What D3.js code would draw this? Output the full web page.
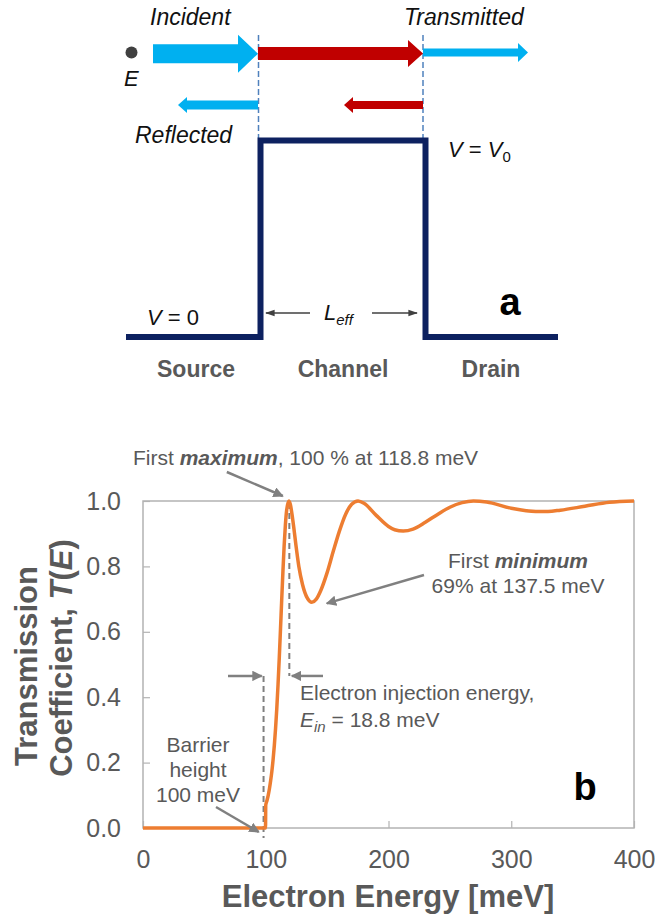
<!DOCTYPE html>
<html>
<head>
<meta charset="utf-8">
<script src="https://cdn.jsdelivr.net/npm/d3@7"></script>
<style>
  body { margin: 0; background: #fff; }
  svg { display: block; font-family: "Liberation Sans", Arial, Helvetica, sans-serif; }
</style>
</head>
<body>
<svg id="fig" width="655" height="917"></svg>
<script>
// transmission curve (b)
var energy = [0, 99.8, 100, 101, 102, 103, 104, 105, 106, 107, 108, 109, 110, 111, 112, 113, 114, 115, 116, 117,
  118.8, 120, 122, 125, 127, 130, 134, 137.5, 141, 145, 150, 155, 160, 165, 170, 175.2, 180, 190, 200, 205,
  212, 220, 230, 240, 250, 260, 269.2, 280, 300, 320, 330, 340, 360, 380, 400];
var transmission = [0, 0, 0.07, 0.084, 0.100, 0.120, 0.145, 0.174, 0.210, 0.253, 0.305, 0.366, 0.438, 0.519, 0.607, 0.698, 0.785, 0.864, 0.927, 0.971,
  1.0, 0.990, 0.943, 0.853, 0.799, 0.744, 0.702, 0.690, 0.699, 0.728, 0.781, 0.846, 0.908, 0.959, 0.990, 1.0, 0.993, 0.956, 0.922, 0.912,
  0.908, 0.914, 0.935, 0.959, 0.981, 0.995, 1.0, 0.997, 0.978, 0.968, 0.968, 0.972, 0.984, 0.996, 1.0];
var xTicks = [0, 100, 200, 300, 400];
var yTicks = [0, 0.2, 0.4, 0.6, 0.8, 1.0];
var regionLabels = ["Source", "Channel", "Drain"];

var barrierE = 100, peakE = 118.8, minE = 137.5, minT = 0.69;

var svg = d3.select("#fig");
var grey = "#595959";

// ---------- panel a : schematic ----------
var a = svg.append("g");
var xL = 260.5, xR = 425.5, yTop = 140.5, yBot = 337;

function arrow(x0, tip, yc, shaft, headLen, headH, col) {
  var s = tip > x0 ? 1 : -1;
  var hb = tip - s * headLen;
  var pts = [[x0, yc - shaft / 2], [hb, yc - shaft / 2], [hb, yc - headH / 2], [tip, yc],
    [hb, yc + headH / 2], [hb, yc + shaft / 2], [x0, yc + shaft / 2]];
  a.append("polygon").attr("points", pts.map(function (p) { return p.join(","); }).join(" ")).attr("fill", col);
}

// dashed interface lines
[xL - 2, xR - 2.5].forEach(function (xx) {
  a.append("line").attr("x1", xx).attr("x2", xx).attr("y1", 35).attr("y2", 138)
    .attr("stroke", "#4f81bd").attr("stroke-width", 1.5).attr("stroke-dasharray", "6,3");
});

arrow(153, 258, 53.7, 19, 20, 38, "#00b0f0");
arrow(258, 423, 53.5, 13, 15, 27, "#c00000");
arrow(423, 528, 52.5, 8, 10, 19, "#00b0f0");
arrow(258, 178, 105, 9, 9, 16, "#00b0f0");
arrow(423, 344, 105, 8, 9, 16, "#c00000");

a.append("circle").attr("cx", 131.5).attr("cy", 52.5).attr("r", 6).attr("fill", "#404040");

// barrier profile
a.append("path")
  .attr("d", "M126," + yBot + "H" + xL + "V" + yTop + "H" + xR + "V" + yBot + "H558")
  .attr("fill", "none").attr("stroke", "#0d2160").attr("stroke-width", 6).attr("stroke-linejoin", "miter");

function itext(x, y, str, size) {
  return a.append("text").attr("x", x).attr("y", y).attr("font-size", size || 22)
    .attr("font-style", "italic").attr("fill", "#111").text(str);
}
itext(150, 25, "Incident").attr("font-size", 23);
itext(404, 25, "Transmitted").attr("font-size", 23);
itext(124, 86, "E");
itext(135, 143, "Reflected").attr("font-size", 23);

var v0 = a.append("text").attr("x", 448).attr("y", 157).attr("font-size", 22).attr("fill", "#111");
v0.append("tspan").attr("font-style", "italic").text("V");
v0.append("tspan").text(" = ");
v0.append("tspan").attr("font-style", "italic").text("V");
v0.append("tspan").attr("font-size", 15).attr("dy", 5).text("0");

var vz = a.append("text").attr("x", 147).attr("y", 325).attr("font-size", 22).attr("fill", "#111");
vz.append("tspan").attr("font-style", "italic").text("V");
vz.append("tspan").text(" = 0");

// L_eff with arrows
var defs = svg.append("defs");
defs.append("marker").attr("id", "hd").attr("viewBox", "0 0 10 10").attr("refX", 9).attr("refY", 5)
  .attr("markerWidth", 6).attr("markerHeight", 6).attr("orient", "auto-start-reverse").attr("markerUnits", "strokeWidth")
  .append("path").attr("d", "M0,1.5L10,5L0,8.5z").attr("fill", "#404040");
defs.append("marker").attr("id", "ga").attr("viewBox", "0 0 10 10").attr("refX", 9).attr("refY", 5)
  .attr("markerWidth", 4.2).attr("markerHeight", 4.2).attr("orient", "auto").attr("markerUnits", "strokeWidth")
  .append("path").attr("d", "M0,0L10,5L0,10z").attr("fill", "#808080");

a.append("line").attr("x1", 310).attr("x2", 266).attr("y1", 313).attr("y2", 313)
  .attr("stroke", "#404040").attr("stroke-width", 1.6).attr("marker-end", "url(#hd)");
a.append("line").attr("x1", 372).attr("x2", 417).attr("y1", 313).attr("y2", 313)
  .attr("stroke", "#404040").attr("stroke-width", 1.6).attr("marker-end", "url(#hd)");
var le = a.append("text").attr("x", 324).attr("y", 320).attr("font-size", 22).attr("font-style", "italic").attr("fill", "#111");
le.append("tspan").text("L");
le.append("tspan").attr("font-size", 15).attr("dy", 5).text("eff");

a.append("text").attr("x", 510).attr("y", 315).attr("text-anchor", "middle").attr("font-size", 38)
  .attr("font-weight", "bold").attr("fill", "#000").text("a");

var regionX = [196, 343, 491];
a.selectAll(".reg").data(regionLabels).enter().append("text")
  .attr("x", function (d, i) { return regionX[i]; }).attr("y", 377)
  .attr("text-anchor", "middle").attr("font-size", 23).attr("font-weight", "bold").attr("fill", grey)
  .text(function (d) { return d; });

// ---------- panel b : T(E) ----------
var x = d3.scaleLinear().domain([0, 400]).range([143, 634]);
var y = d3.scaleLinear().domain([0, 1]).range([828, 501]);

var b = svg.append("g");

b.append("rect").attr("x", x(0)).attr("y", y(1)).attr("width", x(400) - x(0)).attr("height", y(0) - y(1))
  .attr("fill", "none").attr("stroke", "#b3b3b3").attr("stroke-width", 1.5);

var yAxis = b.append("g").attr("transform", "translate(" + x(0) + ",0)")
  .call(d3.axisLeft(y).tickValues(yTicks).tickFormat(d3.format(".1f")).tickSizeInner(-7).tickSizeOuter(0).tickPadding(22));
var xAxis = b.append("g").attr("transform", "translate(0," + y(0) + ")")
  .call(d3.axisBottom(x).tickValues(xTicks).tickFormat(d3.format("d")).tickSizeInner(-7).tickSizeOuter(0).tickPadding(22));
[yAxis, xAxis].forEach(function (g) {
  g.select(".domain").remove();
  g.selectAll(".tick line").attr("stroke", "#b3b3b3").attr("stroke-width", 1.2);
  g.selectAll(".tick text").attr("font-size", 25).attr("fill", grey)
    .attr("font-family", "\"Liberation Sans\", Arial, sans-serif");
});

// dashed guides + annotation arrows
var armT = 0.465;
function dashed(x1, y1, x2, y2) {
  b.append("line").attr("x1", x1).attr("y1", y1).attr("x2", x2).attr("y2", y2)
    .attr("stroke", "#7f7f7f").attr("stroke-width", 2).attr("stroke-dasharray", "6,4");
}
function garrow(x1, y1, x2, y2) {
  b.append("line").attr("x1", x1).attr("y1", y1).attr("x2", x2).attr("y2", y2)
    .attr("stroke", "#808080").attr("stroke-width", 2.5).attr("marker-end", "url(#ga)");
}
dashed(x(peakE) + 0.5, y(1) + 2, x(peakE) + 0.5, y(armT));
dashed(x(barrierE) - 2.2, y(armT), x(barrierE) - 2.2, y(0) + 10);

var line = d3.line().x(function (d) { return x(d[0]); }).y(function (d) { return y(d[1]); }).curve(d3.curveMonotoneX);
b.append("path").datum(energy.map(function (e, i) { return [e, transmission[i]]; }))
  .attr("d", line).attr("fill", "none").attr("stroke", "#ed7d31").attr("stroke-width", 3.5)
  .attr("stroke-linejoin", "round");

garrow(228, y(armT), x(barrierE) - 4, y(armT));
garrow(323, y(armT), x(peakE) + 3, y(armT));
garrow(x(peakE) - 62, y(1) - 29, x(peakE) - 6, y(1) - 5);
garrow(424, 575, x(minE) + 15, y(minT) + 1);
garrow(216, 807, x(barrierE) - 7, y(0) + 4);

function note(xx, yy, anchor) {
  return b.append("text").attr("x", xx).attr("y", yy).attr("text-anchor", anchor || "start")
    .attr("font-size", 21).attr("fill", grey);
}
var t1 = note(133, 465);
t1.append("tspan").text("First ");
t1.append("tspan").attr("font-weight", "bold").attr("font-style", "italic").text("maximum");
t1.append("tspan").text(", 100 % at 118.8 meV");

var t2 = note(518, 568, "middle");
t2.append("tspan").text("First ");
t2.append("tspan").attr("font-weight", "bold").attr("font-style", "italic").text("minimum");
note(518, 593, "middle").text("69% at 137.5 meV");

note(300, 700).text("Electron injection energy,");
var t3 = note(300, 727);
t3.append("tspan").attr("font-style", "italic").text("E");
t3.append("tspan").attr("font-style", "italic").attr("font-size", 15).attr("dy", 5).text("in");
t3.append("tspan").attr("dy", -5).text(" = 18.8 meV");

["Barrier", "height", "100 meV"].forEach(function (s, i) {
  note(198, 752 + i * 25, "middle").text(s);
});

b.append("text").attr("x", 585).attr("y", 800).attr("text-anchor", "middle").attr("font-size", 38)
  .attr("font-weight", "bold").attr("fill", "#000").text("b");

// axis titles
b.append("text").attr("x", 388).attr("y", 907).attr("text-anchor", "middle").attr("font-size", 31)
  .attr("font-weight", "bold").attr("fill", grey).text("Electron Energy [meV]");
b.append("text").attr("transform", "translate(37,666) rotate(-90)").attr("text-anchor", "middle")
  .attr("font-size", 31).attr("font-weight", "bold").attr("fill", grey).text("Transmission");
var yt = b.append("text").attr("transform", "translate(72,658) rotate(-90)").attr("text-anchor", "middle")
  .attr("font-size", 31).attr("font-weight", "bold").attr("fill", grey);
yt.append("tspan").text("Coefficient, ");
yt.append("tspan").attr("font-style", "italic").text("T");
yt.append("tspan").text("(");
yt.append("tspan").attr("font-style", "italic").text("E");
yt.append("tspan").text(")");
</script>
</body>
</html>
